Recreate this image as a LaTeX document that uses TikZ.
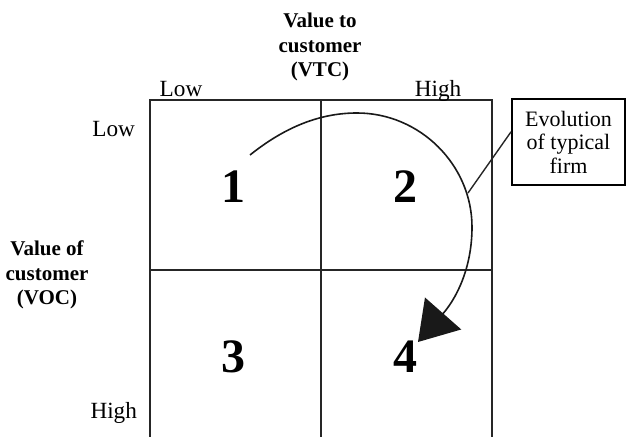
\documentclass[tikz,border=0pt]{standalone}
\usepackage{fontspec}
\setmainfont{Liberation Serif}
\usetikzlibrary{positioning,calc,arrows.meta}

\begin{document}
\begin{tikzpicture}[x=0.5pt, y=-0.5pt]
\tikzset{
  gridline/.style={draw=black!85, line width=0.55pt},
  axislbl/.style={font=\fontsize{11.6}{12}\selectfont},
  titlelbl/.style={font=\fontsize{10.5}{12.2}\selectfont\bfseries, align=center},
  quad/.style={font=\fontsize{24}{24}\selectfont\bfseries},
  calloutbox/.style={draw=black, line width=1pt, minimum width=56.5pt, minimum height=43pt,
    inner sep=2pt, align=center, font=\fontsize{11}{11.8}\selectfont},
  evoarc/.style={draw=black!90, line width=0.8pt, -{Triangle[length=19pt, width=24pt]}}
}
\useasboundingbox (0,0) rectangle (626,437);
% matrix grid
\draw[gridline] (150,437) -- (150,100) -- (492,100) -- (492,437);
\draw[gridline] (321,100) -- (321,437);
\draw[gridline] (150,270) -- (492,270);
% axis titles
\node[titlelbl] (vtc) at (320,47) {Value to\\customer\\(VTC)};
\node[titlelbl] (voc) at (47,275) {Value of\\customer\\(VOC)};
\node[axislbl, anchor=base] (toplow) at (181,97) {Low};
\node[axislbl, anchor=base] (tophigh) at (438,97) {High};
\node[axislbl, anchor=base east] (leftlow) at (142,137) {Low};
\node[axislbl, anchor=base east] (lefthigh) at (144,419) {High};
% quadrants
\node[quad] (q1) at (233,187) {1};
\node[quad] (q2) at (405,187) {2};
\node[quad] (q3) at (233,357) {3};
\node[quad] (q4) at (405,357) {4};
% evolution path
\coordinate (start) at (250,155);
\coordinate (tip) at (418,342);
\coordinate (bend) at (468,193);
\draw[evoarc] (start) .. controls (285,127) and (320,113) .. (357,113)
  .. controls (420,113) and (472,165) .. (472,227)
  .. controls (472,270) and (455,300) .. (tip);
\node[calloutbox] (evo) at (568.5,142) {Evolution\\of typical\\firm};
\draw[gridline, line width=0.7pt] (evo.170) -- (bend);
\end{tikzpicture}
\end{document}
